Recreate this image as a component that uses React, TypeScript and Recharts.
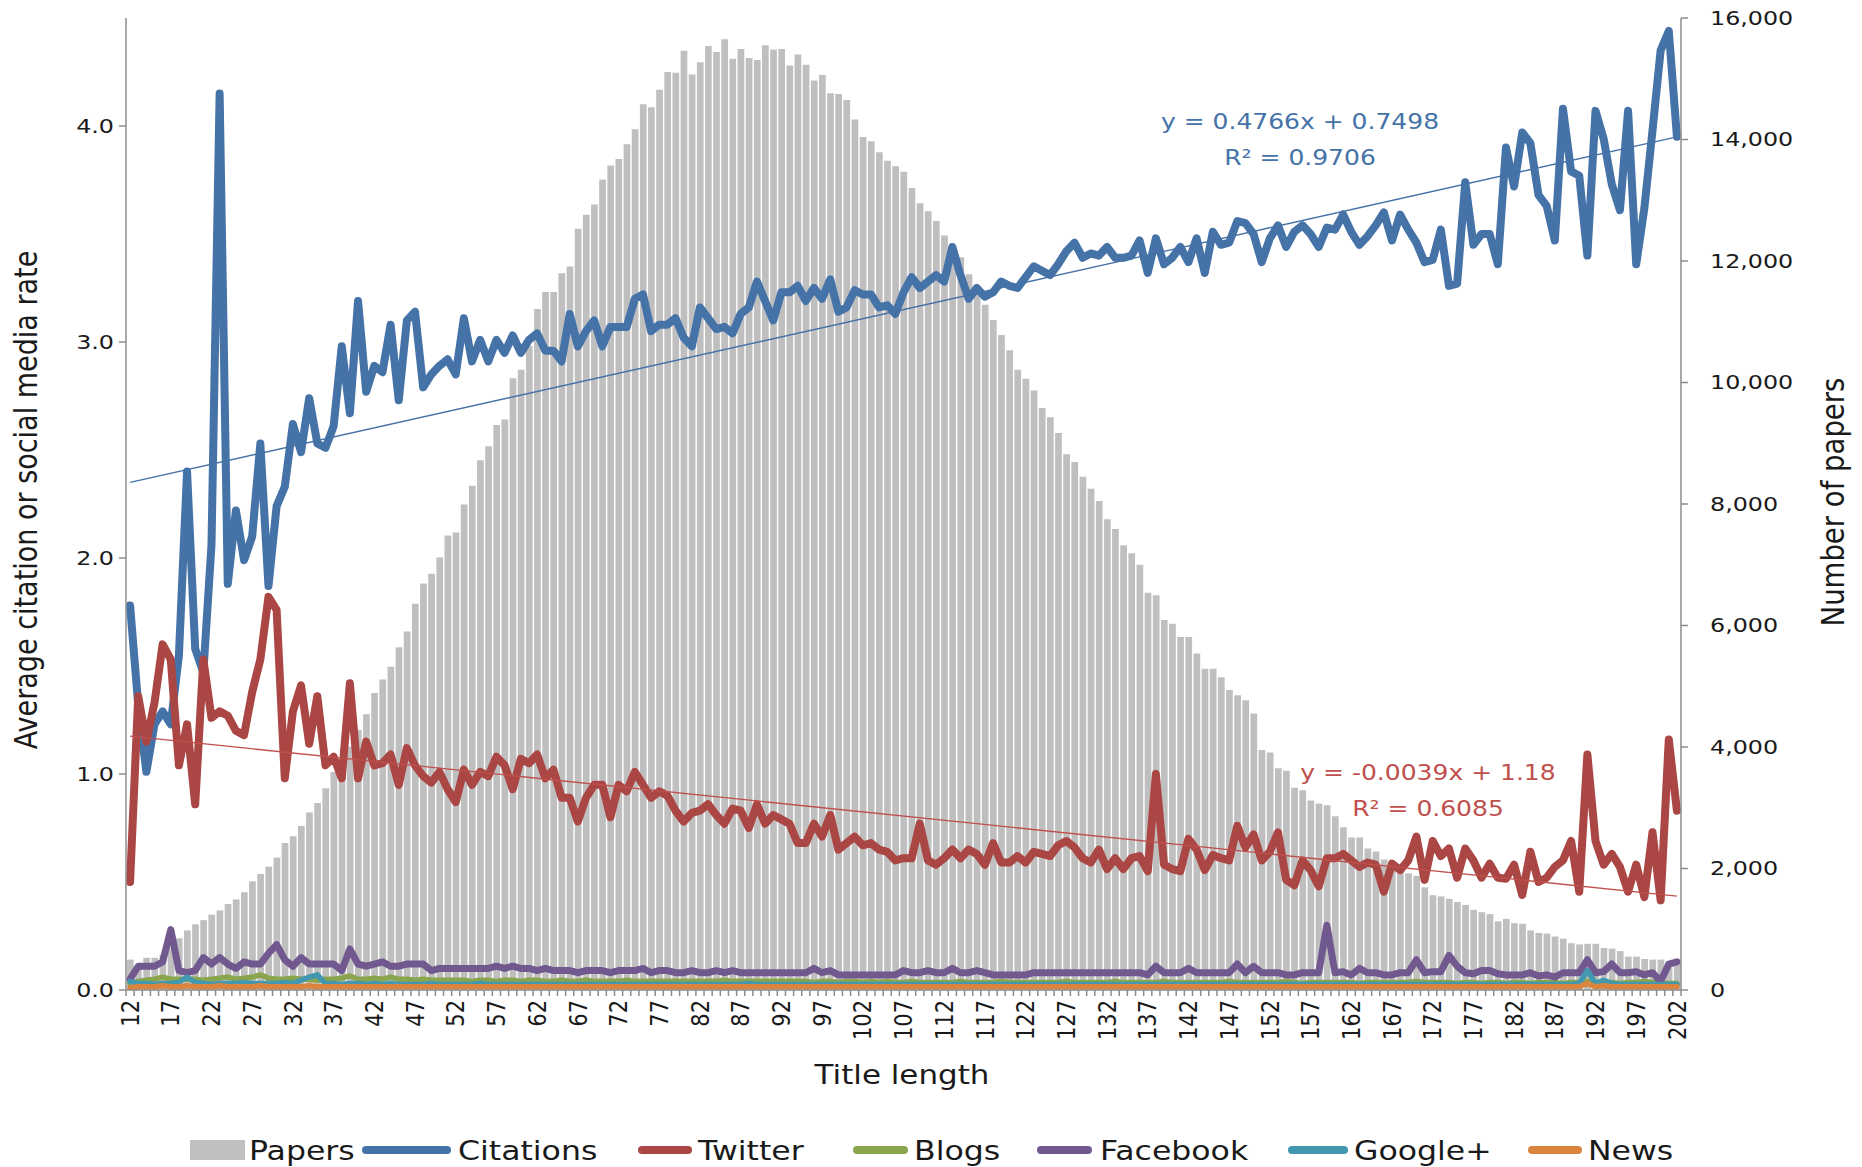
import React from 'react';
import { ComposedChart, Bar, Line, XAxis, YAxis } from 'recharts';

const TITLE_LENGTHS = [
  12, 13, 14, 15, 16, 17, 18, 19, 20, 21,
  22, 23, 24, 25, 26, 27, 28, 29, 30, 31,
  32, 33, 34, 35, 36, 37, 38, 39, 40, 41,
  42, 43, 44, 45, 46, 47, 48, 49, 50, 51,
  52, 53, 54, 55, 56, 57, 58, 59, 60, 61,
  62, 63, 64, 65, 66, 67, 68, 69, 70, 71,
  72, 73, 74, 75, 76, 77, 78, 79, 80, 81,
  82, 83, 84, 85, 86, 87, 88, 89, 90, 91,
  92, 93, 94, 95, 96, 97, 98, 99, 100, 101,
  102, 103, 104, 105, 106, 107, 108, 109, 110, 111,
  112, 113, 114, 115, 116, 117, 118, 119, 120, 121,
  122, 123, 124, 125, 126, 127, 128, 129, 130, 131,
  132, 133, 134, 135, 136, 137, 138, 139, 140, 141,
  142, 143, 144, 145, 146, 147, 148, 149, 150, 151,
  152, 153, 154, 155, 156, 157, 158, 159, 160, 161,
  162, 163, 164, 165, 166, 167, 168, 169, 170, 171,
  172, 173, 174, 175, 176, 177, 178, 179, 180, 181,
  182, 183, 184, 185, 186, 187, 188, 189, 190, 191,
  192, 193, 194, 195, 196, 197, 198, 199, 200, 201, 202,
];

const X_LABELS = [
  12, 17, 22, 27, 32, 37, 42, 47, 52, 57, 62, 67, 72, 77, 82, 87, 92, 97, 102, 107,
  112, 117, 122, 127, 132, 137, 142, 147, 152, 157, 162, 167, 172, 177, 182, 187, 192, 197, 202,
];
const RATE_TICKS = [0, 1, 2, 3, 4];
const PAPER_TICKS = [0, 2000, 4000, 6000, 8000, 10000, 12000, 14000, 16000];

const PAPERS = [
  500, 400, 530, 530, 580, 700, 850, 980, 1080, 1150,
  1240, 1310, 1415, 1490, 1610, 1790, 1910, 2030, 2180, 2420,
  2530, 2700, 2920, 3080, 3320, 3590, 3800, 4010, 4280, 4540,
  4890, 5110, 5320, 5640, 5900, 6360, 6690, 6850, 7120, 7480,
  7530, 7990, 8300, 8720, 8950, 9300, 9390, 10070, 10210, 10600,
  11210, 11490, 11490, 11800, 11910, 12530, 12760, 12930, 13340, 13570,
  13680, 13920, 14170, 14580, 14530, 14820, 15110, 15100, 15460, 15070,
  15270, 15540, 15440, 15650, 15330, 15490, 15340, 15310, 15550, 15480,
  15490, 15220, 15400, 15230, 14970, 15060, 14760, 14750, 14650, 14330,
  14040, 13970, 13790, 13650, 13560, 13470, 13200, 12950, 12820, 12660,
  12420, 12240, 12060, 11780, 11500, 11280, 11030, 10780, 10530, 10210,
  10060, 9870, 9580, 9430, 9170, 8820, 8690, 8450, 8250, 8050,
  7750, 7590, 7320, 7190, 7000, 6540, 6500, 6090, 6030, 5810,
  5810, 5540, 5290, 5290, 5150, 4940, 4850, 4770, 4550, 3950,
  3910, 3650, 3610, 3330, 3290, 3120, 3070, 3040, 2860, 2680,
  2510, 2510, 2330, 2280, 2150, 2070, 2030, 1920, 1880, 1690,
  1560, 1540, 1500, 1450, 1400, 1320, 1280, 1250, 1130, 1170,
  1100, 1090, 980, 940, 930, 880, 845, 770, 750, 760,
  760, 690, 680, 640, 550, 550, 510, 500, 500, 475, 510,
];

const CITATIONS = [
  1.78, 1.32, 1.01, 1.23, 1.29, 1.23, 1.55, 2.40, 1.58, 1.47,
  2.06, 4.15, 1.88, 2.22, 1.99, 2.10, 2.53, 1.87, 2.24, 2.33,
  2.62, 2.49, 2.74, 2.53, 2.51, 2.61, 2.98, 2.67, 3.19, 2.77,
  2.89, 2.86, 3.08, 2.73, 3.10, 3.14, 2.79, 2.85, 2.89, 2.92,
  2.85, 3.11, 2.91, 3.01, 2.91, 3.01, 2.95, 3.03, 2.95, 3.01,
  3.04, 2.96, 2.96, 2.91, 3.13, 2.98, 3.05, 3.10, 2.98, 3.07,
  3.07, 3.07, 3.20, 3.22, 3.05, 3.08, 3.08, 3.11, 3.02, 2.98,
  3.16, 3.11, 3.06, 3.07, 3.04, 3.13, 3.16, 3.28, 3.19, 3.10,
  3.23, 3.23, 3.26, 3.19, 3.25, 3.20, 3.29, 3.14, 3.16, 3.24,
  3.22, 3.22, 3.16, 3.17, 3.13, 3.23, 3.30, 3.25, 3.28, 3.31,
  3.28, 3.44, 3.31, 3.20, 3.25, 3.21, 3.23, 3.28, 3.26, 3.25,
  3.30, 3.35, 3.33, 3.31, 3.36, 3.42, 3.46, 3.39, 3.41, 3.40,
  3.44, 3.39, 3.39, 3.40, 3.47, 3.32, 3.48, 3.36, 3.39, 3.44,
  3.37, 3.48, 3.32, 3.51, 3.45, 3.46, 3.56, 3.55, 3.50, 3.37,
  3.48, 3.54, 3.44, 3.51, 3.54, 3.50, 3.44, 3.53, 3.52, 3.59,
  3.51, 3.45, 3.49, 3.54, 3.60, 3.47, 3.59, 3.52, 3.46, 3.37,
  3.38, 3.52, 3.26, 3.27, 3.74, 3.45, 3.50, 3.50, 3.36, 3.90,
  3.72, 3.97, 3.92, 3.68, 3.63, 3.47, 4.08, 3.79, 3.77, 3.40,
  4.07, 3.94, 3.73, 3.61, 4.07, 3.36, 3.62, 3.98, 4.35, 4.44, 3.95,
];

const TWITTER = [
  0.50, 1.36, 1.15, 1.33, 1.60, 1.53, 1.04, 1.23, 0.86, 1.53,
  1.26, 1.29, 1.27, 1.20, 1.18, 1.38, 1.53, 1.82, 1.76, 0.98,
  1.29, 1.41, 1.14, 1.36, 1.04, 1.08, 0.98, 1.42, 0.98, 1.15,
  1.04, 1.05, 1.09, 0.95, 1.12, 1.04, 0.99, 0.96, 1.01, 0.93,
  0.87, 1.02, 0.95, 1.01, 0.99, 1.08, 1.04, 0.93, 1.07, 1.05,
  1.09, 0.98, 1.02, 0.89, 0.89, 0.78, 0.89, 0.95, 0.95, 0.80,
  0.95, 0.92, 1.01, 0.95, 0.89, 0.92, 0.90, 0.83, 0.78, 0.82,
  0.83, 0.86, 0.81, 0.77, 0.84, 0.83, 0.75, 0.86, 0.77, 0.81,
  0.79, 0.77, 0.68, 0.68, 0.77, 0.71, 0.81, 0.65, 0.68, 0.71,
  0.67, 0.68, 0.65, 0.64, 0.60, 0.61, 0.61, 0.77, 0.60, 0.58,
  0.61, 0.65, 0.61, 0.65, 0.63, 0.58, 0.68, 0.59, 0.59, 0.62,
  0.59, 0.64, 0.63, 0.62, 0.67, 0.69, 0.66, 0.61, 0.59, 0.65,
  0.56, 0.61, 0.56, 0.61, 0.62, 0.55, 1.00, 0.58, 0.56, 0.55,
  0.70, 0.65, 0.555, 0.625, 0.61, 0.60, 0.76, 0.66, 0.72, 0.60,
  0.64, 0.73, 0.51, 0.485, 0.60, 0.555, 0.48, 0.61, 0.61, 0.63,
  0.60, 0.57, 0.59, 0.58, 0.455, 0.585, 0.555, 0.60, 0.71, 0.51,
  0.69, 0.62, 0.655, 0.52, 0.655, 0.60, 0.52, 0.585, 0.52, 0.515,
  0.58, 0.44, 0.64, 0.50, 0.52, 0.57, 0.60, 0.69, 0.455, 1.09,
  0.69, 0.58, 0.63, 0.57, 0.455, 0.58, 0.43, 0.73, 0.415, 1.16, 0.83,
];

const BLOGS = [
  0.03, 0.04, 0.045, 0.05, 0.06, 0.05, 0.05, 0.05, 0.05, 0.045,
  0.05, 0.055, 0.06, 0.05, 0.055, 0.06, 0.07, 0.055, 0.05, 0.05,
  0.055, 0.05, 0.05, 0.045, 0.05, 0.05, 0.055, 0.065, 0.05, 0.05,
  0.055, 0.05, 0.06, 0.05, 0.05, 0.045, 0.05, 0.045, 0.045, 0.045,
  0.045, 0.045, 0.04, 0.045, 0.045, 0.04, 0.045, 0.045, 0.04, 0.045,
  0.045, 0.04, 0.04, 0.045, 0.04, 0.04, 0.045, 0.04, 0.04, 0.04,
  0.04, 0.045, 0.04, 0.04, 0.04, 0.04, 0.04, 0.04, 0.04, 0.04,
  0.04, 0.04, 0.04, 0.045, 0.04, 0.04, 0.04, 0.04, 0.04, 0.04,
  0.04, 0.04, 0.04, 0.04, 0.035, 0.04, 0.04, 0.035, 0.04, 0.04,
  0.035, 0.04, 0.035, 0.04, 0.035, 0.035, 0.04, 0.035, 0.035, 0.035,
  0.035, 0.035, 0.04, 0.035, 0.035, 0.035, 0.035, 0.04, 0.035, 0.035,
  0.035, 0.035, 0.035, 0.035, 0.035, 0.04, 0.035, 0.035, 0.035, 0.035,
  0.035, 0.04, 0.035, 0.035, 0.035, 0.035, 0.035, 0.04, 0.035, 0.035,
  0.035, 0.035, 0.035, 0.035, 0.035, 0.04, 0.035, 0.035, 0.035, 0.035,
  0.035, 0.035, 0.04, 0.035, 0.03, 0.035, 0.035, 0.035, 0.035, 0.035,
  0.035, 0.03, 0.035, 0.035, 0.035, 0.035, 0.035, 0.035, 0.04, 0.035,
  0.035, 0.035, 0.035, 0.03, 0.035, 0.035, 0.03, 0.035, 0.035, 0.03,
  0.035, 0.035, 0.03, 0.035, 0.035, 0.035, 0.03, 0.035, 0.035, 0.04,
  0.035, 0.035, 0.035, 0.03, 0.035, 0.035, 0.04, 0.035, 0.035, 0.03, 0.03,
];

const FACEBOOK = [
  0.05, 0.11, 0.11, 0.11, 0.13, 0.28, 0.09, 0.08, 0.09, 0.15,
  0.12, 0.15, 0.12, 0.10, 0.13, 0.12, 0.12, 0.17, 0.21, 0.14,
  0.11, 0.15, 0.12, 0.12, 0.12, 0.12, 0.09, 0.19, 0.12, 0.11,
  0.12, 0.13, 0.11, 0.11, 0.12, 0.12, 0.12, 0.09, 0.10, 0.10,
  0.10, 0.10, 0.10, 0.10, 0.10, 0.11, 0.10, 0.11, 0.10, 0.10,
  0.09, 0.10, 0.09, 0.09, 0.09, 0.08, 0.09, 0.09, 0.09, 0.08,
  0.09, 0.09, 0.09, 0.10, 0.08, 0.09, 0.09, 0.08, 0.08, 0.09,
  0.08, 0.08, 0.09, 0.08, 0.09, 0.08, 0.08, 0.08, 0.08, 0.08,
  0.08, 0.08, 0.08, 0.08, 0.10, 0.08, 0.09, 0.07, 0.07, 0.07,
  0.07, 0.07, 0.07, 0.07, 0.07, 0.09, 0.08, 0.08, 0.09, 0.08,
  0.08, 0.10, 0.08, 0.08, 0.09, 0.08, 0.07, 0.07, 0.07, 0.07,
  0.07, 0.08, 0.08, 0.08, 0.08, 0.08, 0.08, 0.08, 0.08, 0.08,
  0.08, 0.08, 0.08, 0.08, 0.08, 0.07, 0.11, 0.08, 0.08, 0.08,
  0.10, 0.08, 0.08, 0.08, 0.08, 0.08, 0.12, 0.08, 0.11, 0.08,
  0.08, 0.08, 0.07, 0.07, 0.08, 0.08, 0.08, 0.30, 0.08, 0.085,
  0.07, 0.10, 0.08, 0.08, 0.07, 0.07, 0.08, 0.08, 0.14, 0.08,
  0.085, 0.085, 0.16, 0.11, 0.08, 0.075, 0.09, 0.09, 0.075, 0.07,
  0.07, 0.07, 0.08, 0.065, 0.07, 0.06, 0.08, 0.08, 0.08, 0.14,
  0.08, 0.085, 0.12, 0.08, 0.08, 0.085, 0.07, 0.08, 0.04, 0.12, 0.13,
];

const GOOGLE_PLUS = [
  0.04, 0.03, 0.03, 0.025, 0.03, 0.03, 0.035, 0.06, 0.035, 0.03,
  0.025, 0.03, 0.03, 0.03, 0.035, 0.03, 0.03, 0.03, 0.03, 0.035,
  0.03, 0.045, 0.06, 0.07, 0.03, 0.03, 0.025, 0.03, 0.03, 0.025,
  0.03, 0.025, 0.03, 0.025, 0.025, 0.025, 0.025, 0.03, 0.025, 0.025,
  0.025, 0.025, 0.025, 0.03, 0.025, 0.025, 0.025, 0.025, 0.025, 0.025,
  0.025, 0.025, 0.025, 0.025, 0.025, 0.025, 0.025, 0.025, 0.025, 0.025,
  0.025, 0.025, 0.025, 0.025, 0.025, 0.025, 0.025, 0.025, 0.025, 0.025,
  0.025, 0.025, 0.025, 0.025, 0.025, 0.025, 0.03, 0.025, 0.025, 0.025,
  0.025, 0.025, 0.025, 0.025, 0.025, 0.025, 0.025, 0.025, 0.025, 0.025,
  0.025, 0.025, 0.025, 0.025, 0.025, 0.025, 0.025, 0.025, 0.025, 0.025,
  0.025, 0.025, 0.025, 0.025, 0.025, 0.025, 0.025, 0.025, 0.025, 0.025,
  0.025, 0.025, 0.025, 0.025, 0.025, 0.025, 0.025, 0.025, 0.025, 0.025,
  0.025, 0.025, 0.025, 0.025, 0.025, 0.025, 0.025, 0.025, 0.025, 0.025,
  0.025, 0.025, 0.025, 0.025, 0.025, 0.025, 0.025, 0.025, 0.025, 0.025,
  0.025, 0.025, 0.025, 0.025, 0.025, 0.025, 0.025, 0.025, 0.025, 0.025,
  0.025, 0.025, 0.025, 0.025, 0.025, 0.025, 0.025, 0.025, 0.025, 0.025,
  0.025, 0.025, 0.025, 0.025, 0.025, 0.025, 0.025, 0.025, 0.025, 0.025,
  0.025, 0.025, 0.025, 0.025, 0.025, 0.025, 0.025, 0.025, 0.03, 0.09,
  0.03, 0.045, 0.03, 0.025, 0.025, 0.025, 0.025, 0.025, 0.025, 0.025, 0.025,
];

const NEWS = [
  0.01, 0.015, 0.015, 0.015, 0.02, 0.015, 0.015, 0.02, 0.015, 0.015,
  0.015, 0.02, 0.015, 0.015, 0.015, 0.015, 0.02, 0.015, 0.015, 0.015,
  0.015, 0.015, 0.02, 0.015, 0.015, 0.015, 0.015, 0.015, 0.015, 0.015,
  0.015, 0.015, 0.015, 0.015, 0.015, 0.015, 0.015, 0.015, 0.015, 0.015,
  0.015, 0.015, 0.015, 0.015, 0.015, 0.015, 0.015, 0.015, 0.015, 0.015,
  0.015, 0.015, 0.015, 0.015, 0.015, 0.015, 0.015, 0.015, 0.015, 0.015,
  0.015, 0.015, 0.015, 0.015, 0.015, 0.015, 0.015, 0.015, 0.015, 0.015,
  0.015, 0.015, 0.015, 0.015, 0.015, 0.015, 0.015, 0.015, 0.015, 0.015,
  0.015, 0.015, 0.015, 0.015, 0.015, 0.015, 0.015, 0.015, 0.015, 0.015,
  0.015, 0.015, 0.015, 0.015, 0.015, 0.015, 0.015, 0.015, 0.015, 0.015,
  0.015, 0.015, 0.015, 0.015, 0.015, 0.015, 0.015, 0.015, 0.015, 0.015,
  0.015, 0.015, 0.015, 0.015, 0.015, 0.015, 0.015, 0.015, 0.015, 0.015,
  0.015, 0.015, 0.015, 0.015, 0.015, 0.015, 0.015, 0.015, 0.015, 0.015,
  0.015, 0.015, 0.015, 0.015, 0.015, 0.015, 0.015, 0.015, 0.015, 0.015,
  0.015, 0.015, 0.015, 0.015, 0.015, 0.015, 0.015, 0.015, 0.015, 0.015,
  0.015, 0.015, 0.015, 0.015, 0.015, 0.015, 0.015, 0.015, 0.015, 0.015,
  0.015, 0.015, 0.015, 0.015, 0.015, 0.015, 0.015, 0.015, 0.015, 0.015,
  0.015, 0.015, 0.015, 0.015, 0.015, 0.015, 0.015, 0.015, 0.015, 0.03,
  0.015, 0.02, 0.015, 0.015, 0.015, 0.015, 0.015, 0.015, 0.015, 0.015, 0.015,
];

// linear trend lines, value at first and last title length
const CITATION_TREND = [2.35, 3.95];
const TWITTER_TREND = [1.175, 0.435];

const W = 1862;
const H = 1167;
const LEFT_W = 126;
const RIGHT_W = 181;
const TOP = 18;
const X_AXIS_H = 177;
const BAND = (W - LEFT_W - RIGHT_W) / TITLE_LENGTHS.length;
const FONT = '"DejaVu Sans", sans-serif';
const STRETCH = 1.19;
const AXIS = '#8c8c8c';
const TEXT = '#1a1a1a';

const SERIES = [
  { key: 'citations', name: 'Citations', color: '#4572A7', width: 8 },
  { key: 'twitter', name: 'Twitter', color: '#AA4643', width: 8 },
  { key: 'blogs', name: 'Blogs', color: '#89A54E', width: 5.5 },
  { key: 'facebook', name: 'Facebook', color: '#71588F', width: 7 },
  { key: 'googlePlus', name: 'Google+', color: '#4198AF', width: 5.5 },
  { key: 'news', name: 'News', color: '#DB843D', width: 5.5 },
];

const last = TITLE_LENGTHS.length - 1;
const rows = TITLE_LENGTHS.map((len, i) => ({
  len,
  papers: PAPERS[i],
  citations: CITATIONS[i],
  twitter: TWITTER[i],
  blogs: BLOGS[i],
  facebook: FACEBOOK[i],
  googlePlus: GOOGLE_PLUS[i],
  news: NEWS[i],
  citTrend: i === 0 ? CITATION_TREND[0] : i === last ? CITATION_TREND[1] : null,
  twTrend: i === 0 ? TWITTER_TREND[0] : i === last ? TWITTER_TREND[1] : null,
}));

function XTick(props: any) {
  const { x, y, payload } = props;
  const v = payload.value;
  const ly = y + 10;
  return (
    <g>
      <line x1={x - BAND / 2} x2={x - BAND / 2} y1={y} y2={y + 6} stroke={AXIS} strokeWidth={1.5} />
      {v === TITLE_LENGTHS[last] && (
        <line x1={x + BAND / 2} x2={x + BAND / 2} y1={y} y2={y + 6} stroke={AXIS} strokeWidth={1.5} />
      )}
      {X_LABELS.includes(v) && (
        <text
          transform={`translate(${x},${ly}) scale(${STRETCH},1) rotate(-90)`}
          textAnchor="end"
          dominantBaseline="central"
          fontSize={21}
          fontFamily={FONT}
          fill={TEXT}
        >
          {v}
        </text>
      )}
    </g>
  );
}

function RateTick(props: any) {
  const { x, y, payload } = props;
  return (
    <text
      transform={`translate(${x},${y}) scale(${STRETCH},1)`}
      textAnchor="end"
      dominantBaseline="central"
      fontSize={20}
      fontFamily={FONT}
      fill={TEXT}
    >
      {payload.value.toFixed(1)}
    </text>
  );
}

function PaperTick(props: any) {
  const { x, y, payload } = props;
  return (
    <text
      transform={`translate(${x},${y}) scale(${STRETCH},1)`}
      textAnchor="start"
      dominantBaseline="central"
      fontSize={20}
      fontFamily={FONT}
      fill={TEXT}
    >
      {payload.value.toLocaleString('en-US')}
    </text>
  );
}

const LEGEND_POS: Record<string, { swatch: number; len: number; text: number }> = {
  papers: { swatch: 190, len: 55, text: 249 },
  citations: { swatch: 362, len: 89, text: 458 },
  twitter: { swatch: 638, len: 54, text: 698 },
  blogs: { swatch: 853, len: 55, text: 914 },
  facebook: { swatch: 1037, len: 55, text: 1100 },
  googlePlus: { swatch: 1288, len: 60, text: 1354 },
  news: { swatch: 1528, len: 54, text: 1588 },
};

const stretched = (extra = ''): React.CSSProperties => ({
  position: 'absolute',
  whiteSpace: 'nowrap',
  fontFamily: FONT,
  color: TEXT,
  transform: `${extra} scaleX(${STRETCH})`,
  transformOrigin: 'left center',
});

function Legend() {
  const y = 1150;
  const items = [{ key: 'papers', name: 'Papers', color: '#BFBFBF' }, ...SERIES];
  return (
    <>
      {items.map((s) => {
        const p = LEGEND_POS[s.key];
        return (
          <React.Fragment key={s.key}>
            {s.key === 'papers' ? (
              <div style={{ position: 'absolute', left: p.swatch, top: y - 10, width: p.len, height: 20, background: s.color }} />
            ) : (
              <div style={{ position: 'absolute', left: p.swatch, top: y - 4, width: p.len, height: 8, borderRadius: 4, background: s.color }} />
            )}
            <div style={{ ...stretched('translateY(-50%)'), left: p.text, top: y, fontSize: 26.5 }}>{s.name}</div>
          </React.Fragment>
        );
      })}
    </>
  );
}

function centered(x: number, y: number, size: number, color: string, text: string) {
  return (
    <div
      style={{
        position: 'absolute',
        left: x,
        top: y,
        whiteSpace: 'nowrap',
        fontFamily: FONT,
        fontSize: size,
        color,
        transform: `translate(-50%,-50%) scaleX(${STRETCH})`,
      }}
    >
      {text}
    </div>
  );
}

export default function App() {
  return (
    <div style={{ position: 'absolute', left: 0, top: 0, width: W, height: H, background: '#fff', overflow: 'hidden' }}>
      <ComposedChart width={W} height={H} data={rows} margin={{ top: TOP, right: 0, bottom: 0, left: 0 }} barSize={6.7}>
        <XAxis
          dataKey="len"
          interval={0}
          height={X_AXIS_H}
          tickSize={0}
          tickMargin={0}
          tickLine={false}
          axisLine={{ stroke: AXIS, strokeWidth: 1.5 }}
          tick={(p: any) => <XTick {...p} />}
        />
        <YAxis
          yAxisId="rate"
          orientation="left"
          width={LEFT_W}
          domain={[0, 4.5]}
          ticks={RATE_TICKS}
          tickSize={7}
          tickMargin={5}
          axisLine={{ stroke: AXIS, strokeWidth: 1.5 }}
          tickLine={{ stroke: AXIS, strokeWidth: 1.5 }}
          tick={(p: any) => <RateTick {...p} />}
        />
        <YAxis
          yAxisId="papers"
          orientation="right"
          width={RIGHT_W}
          domain={[0, 16000]}
          ticks={PAPER_TICKS}
          tickSize={7}
          tickMargin={22}
          axisLine={{ stroke: AXIS, strokeWidth: 1.5 }}
          tickLine={{ stroke: AXIS, strokeWidth: 1.5 }}
          tick={(p: any) => <PaperTick {...p} />}
        />
        <Bar yAxisId="papers" dataKey="papers" fill="#BFBFBF" isAnimationActive={false} />
        {SERIES.map((s) => (
          <Line
            key={s.key}
            yAxisId="rate"
            type="linear"
            dataKey={s.key}
            stroke={s.color}
            strokeWidth={s.width}
            strokeLinejoin="round"
            strokeLinecap="round"
            dot={false}
            activeDot={false}
            isAnimationActive={false}
          />
        ))}
        <Line yAxisId="rate" type="linear" dataKey="citTrend" stroke="#4572A7" strokeWidth={1.3} dot={false} activeDot={false} connectNulls isAnimationActive={false} />
        <Line yAxisId="rate" type="linear" dataKey="twTrend" stroke="#C0504D" strokeWidth={1.3} dot={false} activeDot={false} connectNulls isAnimationActive={false} />
      </ComposedChart>

      {centered(1300, 122, 21, '#4572A7', 'y = 0.4766x + 0.7498')}
      {centered(1300, 158, 21, '#4572A7', 'R² = 0.9706')}
      {centered(1428, 773, 21, '#C0504D', 'y = -0.0039x + 1.18')}
      {centered(1428, 809, 21, '#C0504D', 'R² = 0.6085')}

      <div
        style={{
          position: 'absolute', left: 26, top: 500, whiteSpace: 'nowrap', fontFamily: FONT, fontSize: 27, color: TEXT,
          transform: `translate(-50%,-50%) rotate(-90deg) scaleY(${STRETCH})`,
        }}
      >
        Average citation or social media rate
      </div>
      <div
        style={{
          position: 'absolute', left: 1832, top: 502, whiteSpace: 'nowrap', fontFamily: FONT, fontSize: 27.5, color: TEXT,
          transform: `translate(-50%,-50%) rotate(-90deg) scaleY(${STRETCH})`,
        }}
      >
        Number of papers
      </div>
      {centered(902, 1075, 26, TEXT, 'Title length')}
      <Legend />
    </div>
  );
}
